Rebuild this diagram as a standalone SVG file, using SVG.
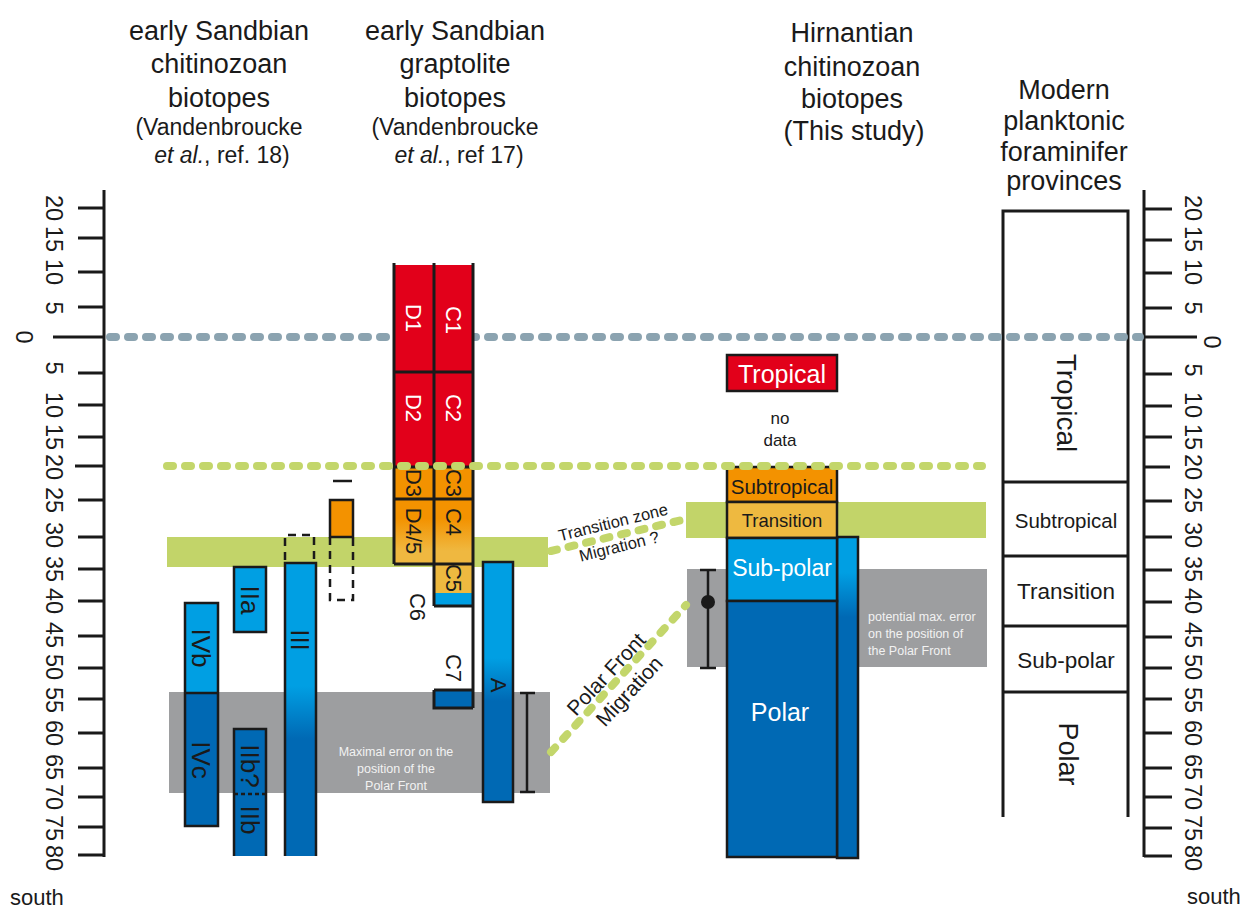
<svg xmlns="http://www.w3.org/2000/svg" width="1248" height="922" viewBox="0 0 1248 922">
<defs>
<linearGradient id="gIII" x1="0" y1="0" x2="0" y2="1">
<stop offset="0.42" stop-color="#009fe3"/><stop offset="0.6" stop-color="#0069b4"/>
</linearGradient>
<linearGradient id="gA" x1="0" y1="0" x2="0" y2="1">
<stop offset="0.4" stop-color="#009fe3"/><stop offset="0.58" stop-color="#0069b4"/>
</linearGradient>
<linearGradient id="gSide" x1="0" y1="0" x2="0" y2="1">
<stop offset="0.11" stop-color="#009fe3"/><stop offset="0.25" stop-color="#0069b4"/>
</linearGradient>
<linearGradient id="gOr" x1="0" y1="0" x2="0" y2="1">
<stop offset="0.3" stop-color="#f39200"/><stop offset="0.8" stop-color="#efb840"/>
</linearGradient>
</defs>
<style>
text{font-family:"Liberation Sans",Arial,sans-serif;fill:#1a1a1a}
.title{font-size:27px;text-anchor:middle}
.ref{font-size:23px;text-anchor:middle}
.num{font-size:23.5px;text-anchor:middle;dominant-baseline:central}
.tick{stroke:#1a1a1a;stroke-width:3;fill:none}
.bx{stroke:#1a1a1a;stroke-width:2.5}
.ln{stroke:#1a1a1a;stroke-width:2.5;fill:none}
.dash{stroke:#1a1a1a;stroke-width:2.5;fill:none;stroke-dasharray:8 6}
.rl{font-size:22px;text-anchor:middle;dominant-baseline:central}
.big{font-size:26px}
.w{fill:#ffffff}
.c{text-anchor:middle;dominant-baseline:central}
.note{font-size:12.5px;fill:#f2f2f2}
.gd{stroke:#c3d66b;stroke-width:8;stroke-linecap:round;stroke-dasharray:6 12;fill:none}
.bd{stroke:#8ba3b0;stroke-width:8;stroke-linecap:round;stroke-dasharray:6 12;fill:none}
.lt{fill:#009fe3}
.dk{fill:#0069b4}
.red{fill:#e2001a}
.org{fill:#f39200}
.yel{fill:#eeb940}
</style>
<rect width="1248" height="922" fill="#ffffff"/>

<g id="titles">
<text class="title" x="219" y="40">early Sandbian</text>
<text class="title" x="219" y="73">chitinozoan</text>
<text class="title" x="219" y="107">biotopes</text>
<text class="ref" x="219" y="135">(Vandenbroucke</text>
<text class="ref" x="222" y="163"><tspan font-style="italic">et al.</tspan>, ref. 18)</text>
<text class="title" x="455" y="40">early Sandbian</text>
<text class="title" x="455" y="73">graptolite</text>
<text class="title" x="455" y="107">biotopes</text>
<text class="ref" x="455" y="135">(Vandenbroucke</text>
<text class="ref" x="459" y="163"><tspan font-style="italic">et al.</tspan>, ref 17)</text>
<text class="title" x="852" y="42">Hirnantian</text>
<text class="title" x="852" y="76">chitinozoan</text>
<text class="title" x="852" y="108">biotopes</text>
<text class="title" x="854" y="140">(This study)</text>
<text class="title" x="1064" y="99">Modern</text>
<text class="title" x="1064" y="130">planktonic</text>
<text class="title" x="1064" y="161">foraminifer</text>
<text class="title" x="1064" y="190">provinces</text>
</g>

<g id="axis-left">
<path class="tick" d="M104 190V857M78 208H104M78 238H104M78 272H104M78 307H104M53 337H104M78 373H104M78 405H104M78 437H104M75 466H104M78 500H104M78 537H104M78 569H104M78 601H104M78 636H104M78 668H104M78 699H104M78 733H104M78 768H104M78 797H104M78 827H104M78 855H104"/>
<text class="num" transform="translate(54 208) rotate(90)">20</text>
<text class="num" transform="translate(54 239) rotate(90)">15</text>
<text class="num" transform="translate(54 272) rotate(90)">10</text>
<text class="num" transform="translate(54 308) rotate(90)">5</text>
<text class="num" transform="translate(24 337) rotate(90)">0</text>
<text class="num" transform="translate(54 368) rotate(90)">5</text>
<text class="num" transform="translate(54 405) rotate(90)">10</text>
<text class="num" transform="translate(54 437) rotate(90)">15</text>
<text class="num" transform="translate(54 467) rotate(90)">20</text>
<text class="num" transform="translate(54 500) rotate(90)">25</text>
<text class="num" transform="translate(54 535) rotate(90)">30</text>
<text class="num" transform="translate(54 569) rotate(90)">35</text>
<text class="num" transform="translate(54 601) rotate(90)">40</text>
<text class="num" transform="translate(54 635) rotate(90)">45</text>
<text class="num" transform="translate(54 667) rotate(90)">50</text>
<text class="num" transform="translate(54 700) rotate(90)">55</text>
<text class="num" transform="translate(54 733) rotate(90)">60</text>
<text class="num" transform="translate(54 767) rotate(90)">65</text>
<text class="num" transform="translate(54 797) rotate(90)">70</text>
<text class="num" transform="translate(54 828) rotate(90)">75</text>
<text class="num" transform="translate(54 858) rotate(90)">80</text>
<text x="10" y="905" font-size="22">south</text>
</g>

<g id="axis-right">
<path class="tick" d="M1144 190V857M1144 209H1172M1144 240H1172M1144 273H1172M1144 308H1172M1144 337H1197M1144 374H1172M1144 406H1172M1144 437H1172M1144 467H1170M1144 501H1172M1144 537H1172M1144 570H1172M1144 602H1172M1144 637H1172M1144 668H1172M1144 699H1172M1144 733H1172M1144 768H1172M1144 797H1172M1144 828H1172M1144 856H1172"/>
<text class="num" transform="translate(1193 208) rotate(90)">20</text>
<text class="num" transform="translate(1193 239) rotate(90)">15</text>
<text class="num" transform="translate(1193 272) rotate(90)">10</text>
<text class="num" transform="translate(1193 308) rotate(90)">5</text>
<text class="num" transform="translate(1212 342) rotate(90)">0</text>
<text class="num" transform="translate(1193 370) rotate(90)">5</text>
<text class="num" transform="translate(1193 405) rotate(90)">10</text>
<text class="num" transform="translate(1193 437) rotate(90)">15</text>
<text class="num" transform="translate(1193 467) rotate(90)">20</text>
<text class="num" transform="translate(1193 500) rotate(90)">25</text>
<text class="num" transform="translate(1193 535) rotate(90)">30</text>
<text class="num" transform="translate(1193 569) rotate(90)">35</text>
<text class="num" transform="translate(1193 601) rotate(90)">40</text>
<text class="num" transform="translate(1193 635) rotate(90)">45</text>
<text class="num" transform="translate(1193 667) rotate(90)">50</text>
<text class="num" transform="translate(1193 700) rotate(90)">55</text>
<text class="num" transform="translate(1193 733) rotate(90)">60</text>
<text class="num" transform="translate(1193 767) rotate(90)">65</text>
<text class="num" transform="translate(1193 797) rotate(90)">70</text>
<text class="num" transform="translate(1193 828) rotate(90)">75</text>
<text class="num" transform="translate(1193 858) rotate(90)">80</text>
<text x="1187" y="904" font-size="22">south</text>
</g>

<g id="modern-provinces">
<path class="tick" d="M1003 817V211H1128V817M1003 482H1128M1003 556H1128M1003 626H1128M1003 692H1128"/>
<text class="c" font-size="28" transform="translate(1066 403) rotate(90)">Tropical</text>
<text class="c" font-size="20.5" x="1066" y="520">Subtropical</text>
<text class="c" font-size="22.5" x="1066" y="591">Transition</text>
<text class="c" font-size="22.5" x="1066" y="660">Sub-polar</text>
<text class="c" font-size="27" transform="translate(1068 754) rotate(90)">Polar</text>
</g>

<g id="bands">
<rect x="167" y="537" width="381" height="30" fill="#c2d469"/>
<rect x="686" y="502" width="300" height="36" fill="#c2d469"/>
<rect x="169" y="692" width="381" height="101" fill="#9d9ea0"/>
<rect x="687" y="569" width="300" height="98" fill="#9d9ea0"/>
<text class="note" text-anchor="middle" x="396" y="756">Maximal error on the</text>
<text class="note" text-anchor="middle" x="396" y="773">position of the</text>
<text class="note" text-anchor="middle" x="396" y="790">Polar Front</text>
<text class="note" x="868" y="621">potential max. error</text>
<text class="note" x="868" y="638">on the position of</text>
<text class="note" x="868" y="655">the Polar Front</text>
</g>

<g id="equator-line">
<path class="bd" d="M110 337H1140"/>
</g>

<g id="biotope-IV">
<rect class="lt" x="185" y="603" width="33" height="90"/>
<rect class="dk" x="185" y="693" width="33" height="133"/>
<rect class="bx" x="185" y="603" width="33" height="223" fill="none"/>
<path class="ln" d="M185 693H218"/>
<text class="rl big" transform="translate(201 648) rotate(90)">IVb</text>
<text class="rl big" transform="translate(201 760) rotate(90)">IVc</text>
</g>

<g id="biotope-II">
<rect class="lt bx" x="234" y="567" width="32" height="65"/>
<text class="rl big" transform="translate(250 600) rotate(90)">IIa</text>
<rect class="dk" x="234" y="729" width="32" height="127"/>
<path class="ln" d="M234 856V729H266V856"/>
<path class="ln" d="M234 794H266" stroke-dasharray="4 3"/>
<text class="rl big" transform="translate(250 766) rotate(90)">IIb?</text>
<text class="rl big" transform="translate(250 820) rotate(90)">IIb</text>
</g>

<g id="biotope-III">
<rect x="285" y="563" width="31" height="293" fill="url(#gIII)"/>
<path class="ln" d="M285 856V563H316V856"/>
<path class="dash" d="M285 560V535H314V560"/>
<text class="rl big" transform="translate(300 640) rotate(90)">III</text>
</g>

<g id="biotope-I">
<path class="ln" d="M333 481H352"/>
<rect class="org bx" x="330" y="500" width="23" height="37"/>
<path class="dash" d="M330 537V600H353V537"/>
</g>

<g id="graptolite-DC">
<rect class="red" x="394" y="265" width="79" height="202"/>
<rect class="org" x="394" y="467" width="79" height="32"/>
<rect x="394" y="499" width="79" height="65" fill="url(#gOr)"/>
<rect class="yel" x="434" y="564" width="39" height="29"/>
<rect class="lt" x="434" y="593" width="39" height="13"/>
<rect class="dk" x="434" y="690" width="39" height="18"/>
<path class="tick" d="M394 263V564M434 263V606M473 263V708M394 372H473M394 467H473M394 499H473M394 564H473M434 606H473M434 690H473M434 690V708H473"/>
<text class="rl w" font-size="23" transform="translate(413 318) rotate(90)">D1</text>
<text class="rl w" font-size="23" transform="translate(453 320) rotate(90)">C1</text>
<text class="rl w" font-size="23" transform="translate(413 408) rotate(90)">D2</text>
<text class="rl w" font-size="23" transform="translate(453 408) rotate(90)">C2</text>
<text class="rl" font-size="17" transform="translate(413 483) rotate(90)">D3</text>
<text class="rl" font-size="17" transform="translate(453 483) rotate(90)">C3</text>
<text class="rl" font-size="23" transform="translate(413 531) rotate(90)">D4/5</text>
<text class="rl" font-size="23" transform="translate(453 522) rotate(90)">C4</text>
<text class="rl" font-size="15" transform="translate(453 578) rotate(90)">C5</text>
<text class="rl" font-size="23" transform="translate(417 607) rotate(90)">C6</text>
<text class="rl" font-size="23" transform="translate(453 668) rotate(90)">C7</text>
</g>

<g id="graptolite-A">
<rect class="bx" x="483" y="562" width="30" height="240" fill="url(#gA)"/>
<text class="rl" font-size="23" transform="translate(498 685) rotate(90)">A</text>
</g>

<g id="hirnantian">
<rect class="red bx" x="727" y="355" width="110" height="36"/>
<text class="c w" font-size="25" x="782" y="374">Tropical</text>
<text class="c" font-size="17" x="780" y="418">no</text>
<text class="c" font-size="17" x="780" y="440">data</text>
<rect x="837" y="537" width="21" height="321" fill="url(#gSide)" stroke="#1a1a1a" stroke-width="2.5"/>
<rect class="org bx" x="727" y="467" width="110" height="35"/>
<rect class="yel bx" x="727" y="502" width="110" height="36"/>
<rect class="lt bx" x="727" y="538" width="110" height="63"/>
<rect class="dk bx" x="727" y="601" width="110" height="256"/>
<text class="c" font-size="20.5" x="782" y="486">Subtropical</text>
<text class="c" font-size="18.5" x="782" y="520">Transition</text>
<text class="c w" font-size="23" x="782" y="568">Sub-polar</text>
<text class="c w" font-size="25" x="780" y="712">Polar</text>
</g>

<g id="error-bars">
<path class="ln" d="M527 693V792M520 693H535M520 792H535"/>
<path class="ln" d="M708 570V668M700 570H716M700 668H716"/>
<circle cx="708" cy="602" r="7" fill="#1a1a1a"/>
</g>

<g id="connectors">
<path class="gd" d="M167 466H982"/>
<path class="gd" d="M551 551L682 520"/>
<path class="gd" d="M551 752L686 605"/>
<text class="c" font-size="16.5" transform="translate(613 522) rotate(-14)">Transition zone</text>
<text class="c" font-size="16.5" transform="translate(619 546) rotate(-14)">Migration ?</text>
<text class="c" font-size="21" transform="translate(606 674) rotate(-47)">Polar Front</text>
<text class="c" font-size="21" transform="translate(629 691) rotate(-47)">Migration</text>
</g>
</svg>
